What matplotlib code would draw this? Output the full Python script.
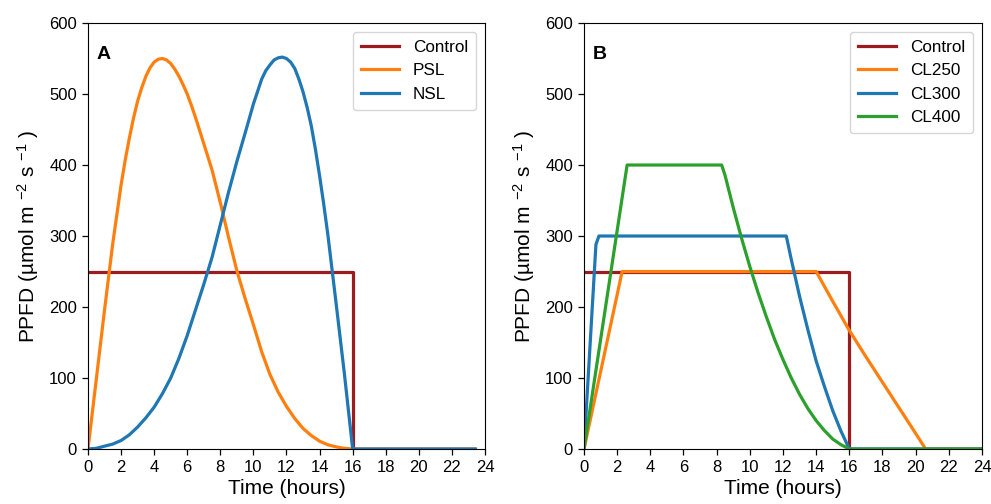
import matplotlib
matplotlib.use("Agg")
import matplotlib.pyplot as plt

plt.rcParams['font.family'] = ['Liberation Sans', 'DejaVu Sans']
plt.rcParams['mathtext.fontset'] = 'custom'
plt.rcParams['mathtext.rm'] = 'Liberation Sans'
plt.rcParams['mathtext.it'] = 'Liberation Sans:italic'

# ---------------- Panel A data ----------------
ctrl_a_t = [0, 16, 16, 23.4]
ctrl_a_v = [250, 250, 0, 0]

psl_t = [0, 0.5, 1, 1.5, 2, 2.25, 2.5, 2.75, 3, 3.25, 3.5, 3.75, 4, 4.25,
         4.5, 4.75, 5, 5.25, 5.5, 5.75, 6, 6.25, 6.5, 7, 7.5, 8, 8.5, 9, 9.5,
         10, 10.5, 11, 11.5, 12, 12.5, 13, 13.5, 14, 14.5, 15, 15.5, 16, 23.4]
psl_v = [0, 98, 196, 290, 372, 407, 438, 466, 490, 509, 525, 537, 545, 549,
         550, 548, 543, 535, 525, 513, 500, 484, 467, 430, 393, 347, 298, 251,
         212, 175, 137, 105, 80, 60, 43, 29, 19, 11, 6, 3, 1, 0, 0]

nsl_t = [0, 0.5, 1, 1.5, 2, 2.5, 3, 3.5, 4, 4.5, 5, 5.5, 6, 6.5, 7, 7.5, 8,
         8.5, 9, 9.5, 10, 10.5, 10.75, 11, 11.25, 11.5, 11.75, 12, 12.25,
         12.5, 12.75, 13, 13.25, 13.5, 13.75, 14, 14.25, 14.5, 15, 15.5, 16,
         23.4]
nsl_v = [0, 1, 4, 7, 12, 20, 31, 44, 59, 78, 100, 128, 160, 196, 232, 270,
         316, 362, 405, 445, 486, 521, 533, 541, 548, 551, 552, 550, 545, 536,
         521, 503, 481, 455, 422, 385, 345, 302, 205, 106, 0, 0]

# ---------------- Panel B data ----------------
ctrl_b_t = [0, 16, 16, 24]
ctrl_b_v = [250, 250, 0, 0]

cl250_t = [0, 2.3, 14.0, 15.0, 16.0, 17.0, 18.0, 19.0, 20.0, 20.6, 24]
cl250_v = [0, 250, 250, 208, 167, 130, 94, 58, 22, 0, 0]

cl300_t = [0, 0.72, 0.9, 12.2, 12.5, 13.0, 13.5, 14.0, 14.5, 15.0, 15.5, 16.0, 24]
cl300_v = [0, 288, 300, 300, 267, 215, 168, 124, 88, 54, 25, 0, 0]

cl400_t = [0, 2.6, 8.3, 8.5, 9.0, 9.5, 10.0, 10.5, 11.0, 11.5, 12.0, 12.5,
           13.0, 13.5, 14.0, 14.5, 15.0, 15.5, 16.0, 24]
cl400_v = [0, 400, 400, 386, 340, 297, 257, 220, 186, 154, 126, 100, 77, 57,
           40, 26, 14, 6, 0, 0]

x_ticks = list(range(0, 25, 2))
y_ticks = list(range(0, 601, 100))

C_CTRL = '#9b1b1f'
C_OR = '#ff7f0e'
C_BL = '#1f77b4'
C_GR = '#2ca02c'

fig = plt.figure(figsize=(9.91, 5.04), dpi=100)
axA = fig.add_axes([0.0888, 0.1091, 0.4006, 0.8452])
axB = fig.add_axes([0.5893, 0.1091, 0.4016, 0.8452])

lw = 2.3
axA.plot(ctrl_a_t, ctrl_a_v, color=C_CTRL, lw=lw, label='Control')
axA.plot(psl_t, psl_v, color=C_OR, lw=lw, label='PSL')
axA.plot(nsl_t, nsl_v, color=C_BL, lw=lw, label='NSL')

axB.plot(ctrl_b_t, ctrl_b_v, color=C_CTRL, lw=lw, label='Control')
axB.plot(cl250_t, cl250_v, color=C_OR, lw=lw, label='CL250')
axB.plot(cl300_t, cl300_v, color=C_BL, lw=lw, label='CL300')
axB.plot(cl400_t, cl400_v, color=C_GR, lw=lw, label='CL400')

ylabel = 'PPFD (µmol m $^{-2}$ s $^{-1}$ )'
for ax, letter in ((axA, 'A'), (axB, 'B')):
    ax.set_xlim(0, 24)
    ax.set_ylim(0, 600)
    ax.set_xticks(x_ticks)
    ax.set_yticks(y_ticks)
    ax.tick_params(labelsize=12, length=4, width=0.9, pad=4)
    ax.set_xlabel('Time (hours)', fontsize=15, labelpad=3)
    ax.set_ylabel(ylabel, fontsize=15, labelpad=6)
    ax.text(0.022, 0.925, letter, transform=ax.transAxes, fontsize=14,
            fontweight='bold', va='center', ha='left')
    ax.legend(loc='upper right', fontsize=12.3, handlelength=2.2,
              borderpad=0.5, labelspacing=0.48, handletextpad=0.8)

fig.savefig('out.png', dpi=100)
